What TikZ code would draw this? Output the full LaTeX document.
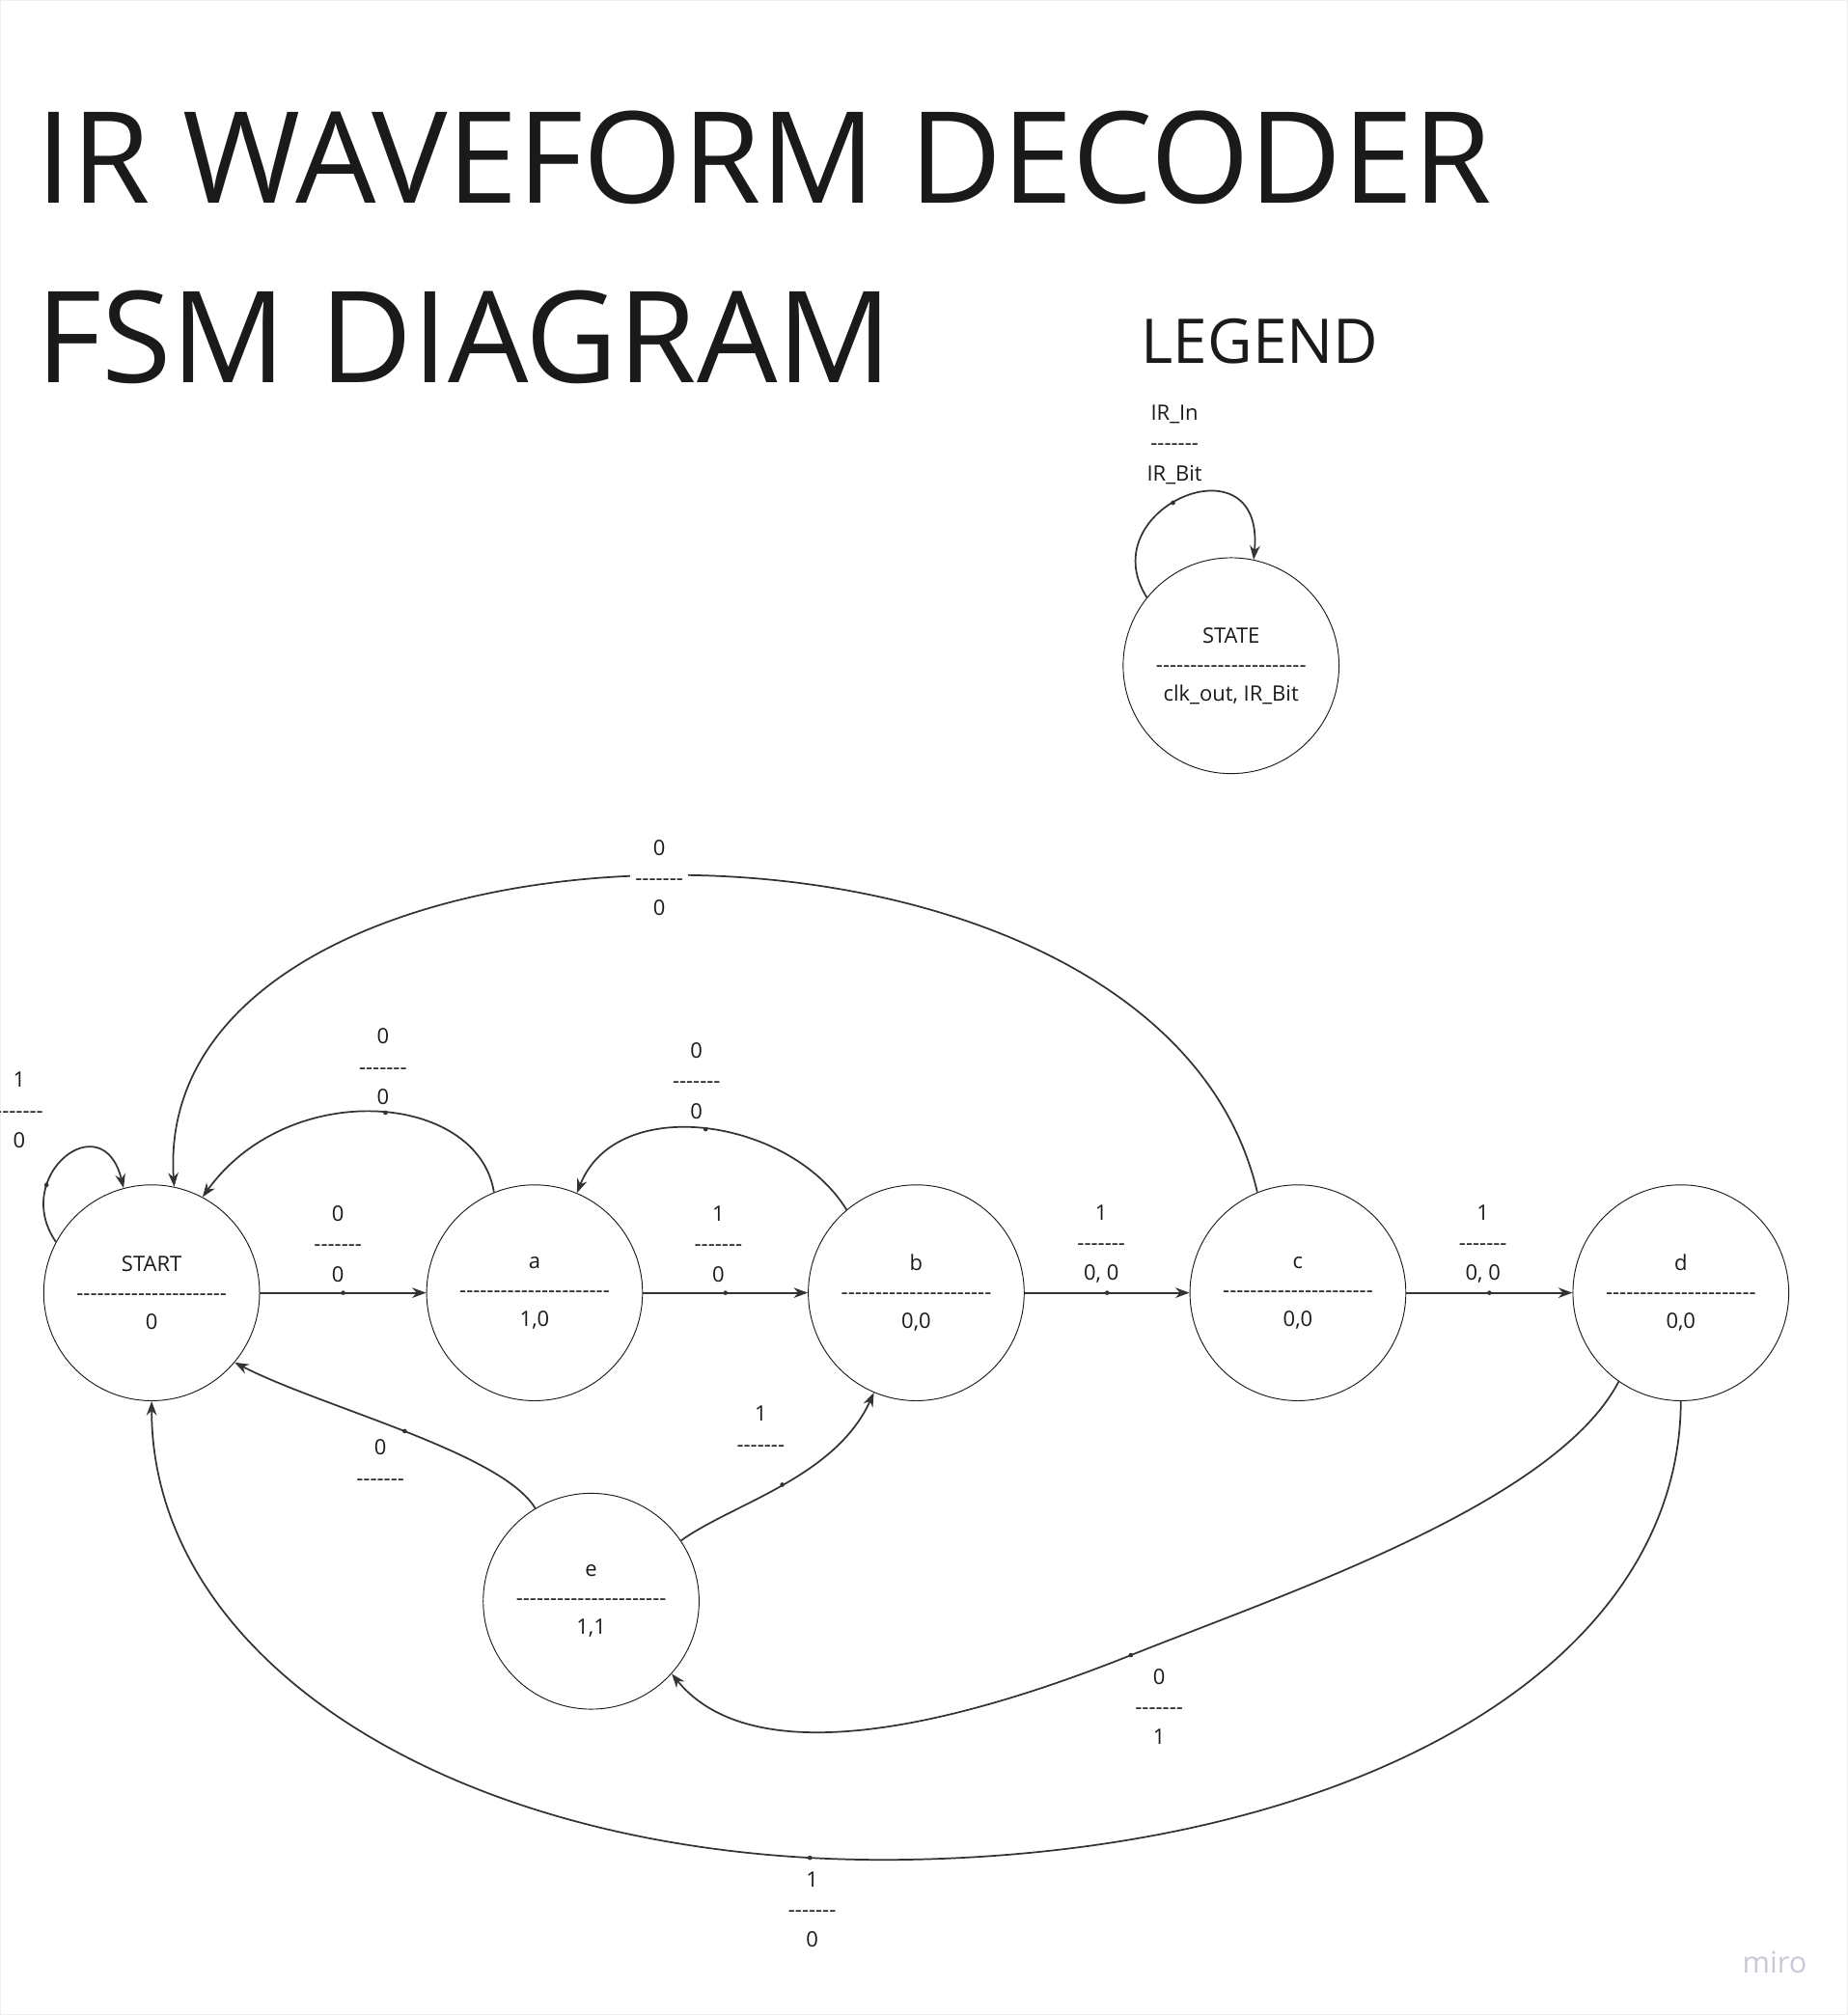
\documentclass[tikz,border=0pt]{standalone}
\usepackage{fontspec}
\setmainfont{Open Sans}[Ligatures=TeXOff]
\usetikzlibrary{arrows.meta}
\definecolor{ink}{HTML}{1A1A1A}
\definecolor{edgec}{HTML}{333333}
\definecolor{mirogray}{HTML}{C8C8D6}
\newcommand\statedash{----------------------}
\begin{document}
\begin{tikzpicture}[x=1pt,y=-1pt,
  state/.style={circle, draw=ink, line width=0.7pt, minimum size=168pt, inner sep=0pt,
    align=center, font=\fontsize{16.5}{22.5}\selectfont, text=ink},
  lbl/.style={align=center, font=\fontsize{16.5}{23.5}\selectfont, text=ink, inner sep=2pt},
  conn/.style={draw=edgec, line width=1.3pt, -{Stealth[length=11pt,width=8pt]}},
  dotmark/.style={circle, fill=edgec, inner sep=0pt, minimum size=3.5pt},
  bigtitle/.style={anchor=base west, inner sep=0pt, text=ink},
]
\useasboundingbox (0,0) rectangle (1438,1568);
\draw[gray!12, line width=1pt] (0.5,0.5) rectangle (1437.5,1567.5);

% titles
\node[bigtitle, font=\fontsize{99}{99}\selectfont] (title1) at (28,158) {IR WAVEFORM DECODER};
\node[bigtitle, font=\fontsize{99}{99}\selectfont] (title2) at (28,298) {FSM DIAGRAM};
\node[bigtitle, font=\fontsize{48}{48}\selectfont] (legendtitle) at (888,283) {LEGEND};

% legend
\node[state] (legend) at (958,518) {STATE\\\statedash\\clk\_out, IR\_Bit};
\draw[conn] (legend.141) .. controls (848,395) and (985,338) .. (legend.78) node[dotmark,pos=0.45]{};
\node[lbl] (leglbl) at (914,346) {IR\_In\\-------\\IR\_Bit};

% states
\node[state] (start) at (118,1006) {START\\\statedash\\0};
\node[state] (a) at (416,1006) {a\\\statedash\\1,0};
\node[state] (b) at (713,1006) {b\\\statedash\\0,0};
\node[state] (c) at (1010,1006) {c\\\statedash\\0,0};
\node[state] (d) at (1308,1006) {d\\\statedash\\0,0};
\node[state] (e) at (460,1246) {e\\\statedash\\1,1};

% START self loop
\draw[conn] (start.152) .. controls (8,915) and (80,858) .. (start.105) node[dotmark,pos=0.3]{};
\node[lbl] (l0) at (15,864) {1\\-------\\0};

% START -> a
\draw[conn] (start.east) -- (a.west) node[dotmark,midway]{};
\node[lbl] (l1) at (263,968) {0\\-------\\0};

% a -> START
\draw[conn] (a.112) .. controls (372,850) and (225,838) .. (start.62) node[dotmark,pos=0.47]{};
\node[lbl] (l2) at (298,830) {0\\-------\\0};

% a -> b
\draw[conn] (a.east) -- (b.west) node[dotmark,midway]{};
\node[lbl] (l3) at (559,968) {1\\-------\\0};

% b -> a
\draw[conn] (b.130) .. controls (615,870) and (480,850) .. (a.67) node[dotmark,pos=0.5]{};
\node[lbl] (l4) at (542,841) {0\\-------\\0};

% b -> c
\draw[conn] (b.east) -- (c.west) node[dotmark,midway]{};
\node[lbl] (l5) at (857,968) {1\\-------\\0, 0};

% c -> d
\draw[conn] (c.east) -- (d.west) node[dotmark,midway]{};
\node[lbl] (l6) at (1154,968) {1\\-------\\0, 0};

% c -> START
\draw[conn] (c.112) .. controls (900,590) and (115,611) .. (start.78);
\node[lbl, fill=white, inner sep=4pt] (l7) at (513,683) {0\\-------\\0};

% e -> START
\draw[conn] (e.121) .. controls (390,1130) and (250,1095) .. (start.-40) node[dotmark,pos=0.5]{};
\node[lbl] (l8) at (296,1138) {0\\-------};

% e -> b
\draw[conn] (e.34) .. controls (570,1170) and (650,1150) .. (b.247) node[dotmark,pos=0.5]{};
\node[lbl] (l9) at (592,1112) {1\\-------};

% d -> e
\draw[conn] (d.235) .. controls (1210,1170) and (1000,1240) .. (880,1288) node[dotmark]{}
  .. controls (760,1336) and (590,1385) .. (e.-42);
\node[lbl] (l10) at (902,1328) {0\\-------\\1};

% d -> START
\draw[conn] (d.270) .. controls (1307,1300) and (1050,1440) .. (710,1447)
  .. controls (370,1454) and (118,1300) .. (start.270) node[dotmark,pos=0.08]{};
\node[lbl] (l11) at (632,1486) {1\\-------\\0};

% watermark
\node[text=mirogray, font=\fontsize{23}{23}\selectfont, inner sep=0pt] (miro) at (1381,1527) {miro};
\end{tikzpicture}
\end{document}
